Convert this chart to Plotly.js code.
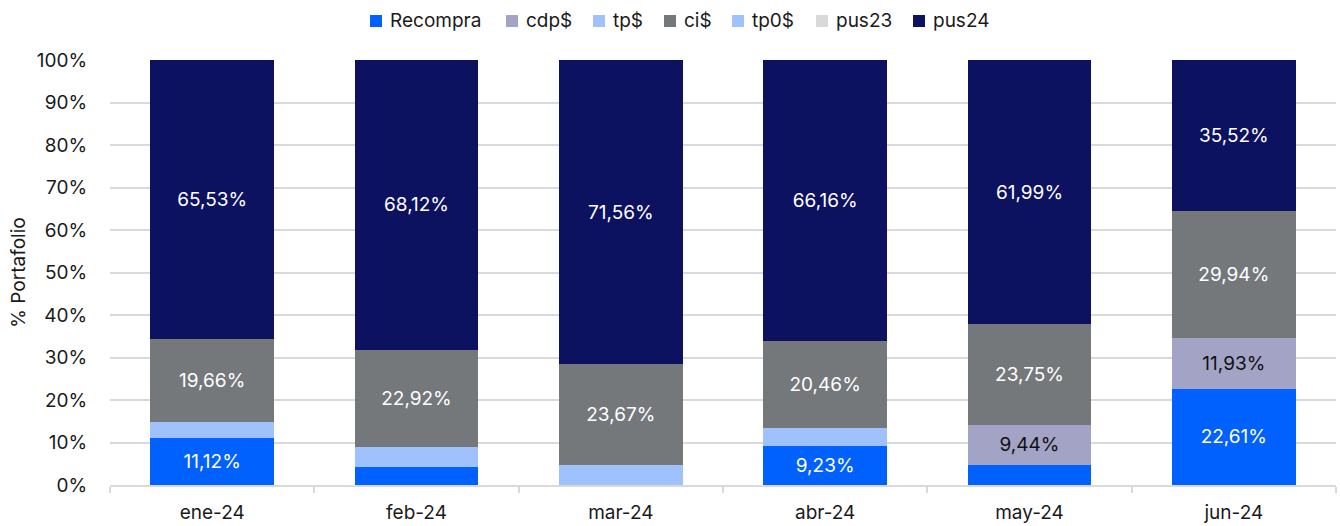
<!DOCTYPE html>
<html>
<head>
<meta charset="utf-8">
<script src="https://cdn.plot.ly/plotly-3.0.1.min.js"></script>
<style>html,body{margin:0;padding:0;background:#fff;}#chart{width:1340px;height:526px;}</style>
</head>
<body>
<div id="chart"></div>
<script>
var months = ['ene-24','feb-24','mar-24','abr-24','may-24','jun-24'];
var seriesNames = ['Recompra','cdp$','tp$','ci$','tp0$','pus23','pus24'];
var recompra = [11.12, 4.25, 0, 9.23, 4.75, 22.61];
var cdp = [0, 0, 0, 0, 9.44, 11.93];
var tp = [3.69, 4.71, 4.77, 4.15, 0, 0];
var ci = [19.66, 22.92, 23.67, 20.46, 23.75, 29.94];
var tp0 = [0, 0, 0, 0, 0, 0];
var pus23 = [0, 0, 0, 0, 0, 0];
var pus24 = [65.53, 68.12, 71.56, 66.16, 61.99, 35.52];
var colors = ['#0061fe','#a3a3c6','#9fc2fd','#75787b','#9fc2fd','#d9d9d9','#0c1160'];
var values = [recompra, cdp, tp, ci, tp0, pus23, pus24];

var FONT = 'Inter, "Liberation Sans", Arial, sans-serif';
var FS = 19;
var ML = 110, MR = 4, MT = 60, MB = 41, W = 1340, H = 526;
var PW = W - ML - MR, PH = H - MT - MB;
function px2x(p){ return (p - ML) / PW; }
function px2y(p){ return (H - MB - p) / PH; }

function lbl(arr){ return arr.map(function(v){ return v >= 9 ? v.toFixed(2).replace('.', ',') + '%' : ''; }); }
var data = seriesNames.map(function(n, i){
  return {type:'bar', name:n, x:months, y:values[i], marker:{color:colors[i], line:{width:0}},
    text:lbl(values[i]), textposition:'inside', insidetextanchor:'middle', textangle:0,
    insidetextfont:{family:FONT, size:FS, color: n === 'cdp$' ? '#111111' : '#ffffff'},
    hoverinfo:'skip', showlegend:false};
});

// manual legend (layout positions in pixels)
var legMarkX = [370, 506, 593, 664, 732, 816, 913];
var legY = 21, legSq = 12, legTextGap = 18;
var shapes = [], annotations = [];
seriesNames.forEach(function(n, i){
  shapes.push({type:'rect', xref:'paper', yref:'paper',
    x0:px2x(legMarkX[i]), x1:px2x(legMarkX[i] + legSq),
    y0:px2y(legY + legSq/2), y1:px2y(legY - legSq/2),
    fillcolor:colors[i], line:{width:0}});
  annotations.push({xref:'paper', yref:'paper', x:px2x(legMarkX[i] + legTextGap), y:px2y(legY),
    xanchor:'left', yanchor:'middle', text:n, showarrow:false,
    font:{family:FONT, size:FS, color:'#1a1a1a'}});
});

var layout = {
  width:W, height:H, barmode:'stack', bargap:0.396,
  margin:{l:ML, r:MR, t:MT, b:MB},
  paper_bgcolor:'#ffffff', plot_bgcolor:'#ffffff',
  font:{family:FONT, size:FS, color:'#1a1a1a'},
  showlegend:false,
  shapes:shapes, annotations:annotations,
  xaxis:{type:'category', showgrid:false, showline:true, linecolor:'#d9d9d9', linewidth:2,
    ticks:'outside', tickson:'boundaries', ticklen:6, tickcolor:'#d9d9d9', tickwidth:2,
    ticklabelstandoff:9,
    tickfont:{family:FONT, size:FS, color:'#1a1a1a'}},
  yaxis:{range:[0,100], dtick:10, ticksuffix:'%', showgrid:true, gridcolor:'#d9d9d9', gridwidth:2,
    zeroline:false, showline:false, ticks:'outside', ticklen:18, tickcolor:'rgba(0,0,0,0)',
    tickfont:{family:FONT, size:FS, color:'#1a1a1a'},
    title:{text:'% Portafolio', font:{family:FONT, size:FS, color:'#1a1a1a'}, standoff:6}}
};
Plotly.newPlot('chart', data, layout, {displayModeBar:false, staticPlot:true});
</script>
</body>
</html>
